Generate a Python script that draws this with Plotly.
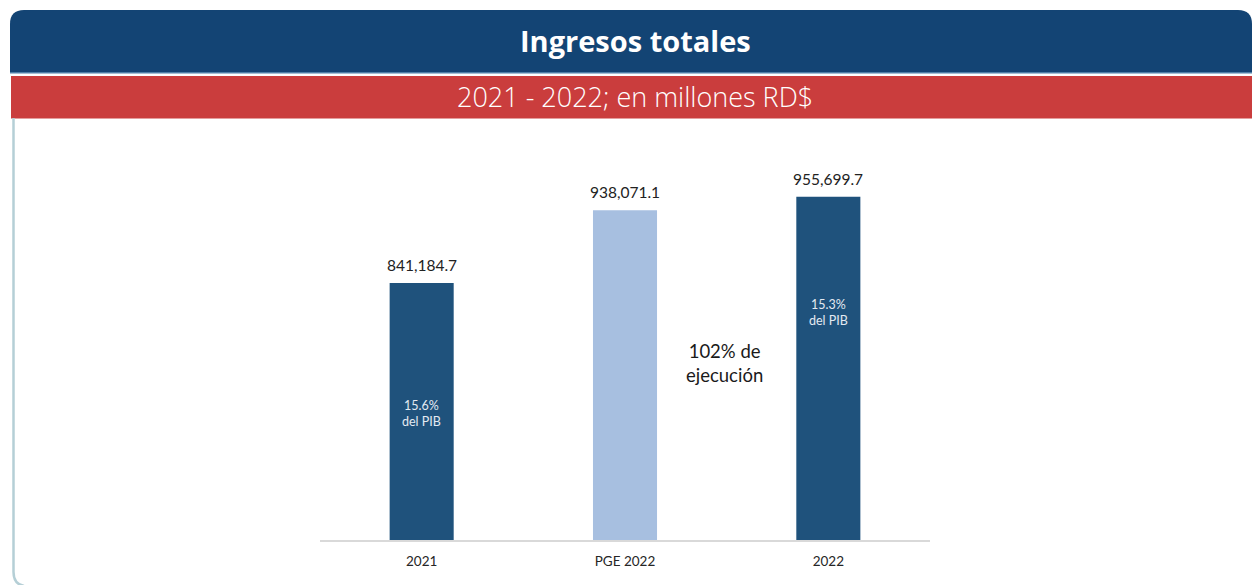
import plotly.graph_objects as go

categories = ["2021", "PGE 2022", "2022"]
values = [841184.7, 938071.1, 955699.7]
pib_labels = ["15.6%<br>del PIB", "", "15.3%<br>del PIB"]
title = "Ingresos totales"
subtitle = "2021 - 2022; en millones RD$"
execution_note = "102% de<br>ejecución"

W, H = 1252, 585
DARK = "#1F527C"
LIGHT = "#A7BFE0"

def px(x):
    return x / W

def py(y):
    return 1 - y / H

xpos = list(range(len(categories)))

fig = go.Figure()
fig.add_trace(go.Bar(
    x=xpos, y=values,
    marker=dict(color=[DARK, LIGHT, DARK], line=dict(width=0)),
    width=0.315,
    hoverinfo="skip",
))

annotations = []
for i, v in zip(xpos, values):
    annotations.append(dict(
        x=i, y=v, xref="x", yref="y", text=f"{v:,.1f}", showarrow=False,
        xanchor="center", yanchor="bottom", yshift=7,
        font=dict(family="Lato, Open Sans, sans-serif", size=15.5, color="#222222"),
    ))
pib_pos = {0: 413, 2: 312}
for i, t in zip(xpos, pib_labels):
    if t:
        annotations.append(dict(
            x=i, xref="x", y=py(pib_pos[i]), yref="paper", text=t, showarrow=False,
            xanchor="center", yanchor="middle",
            font=dict(family="Lato, Open Sans, sans-serif", size=12.5, color="#E3EAF2"),
        ))
annotations.append(dict(
    x=px(725), y=py(363), xref="paper", yref="paper", text=execution_note, showarrow=False,
    xanchor="center", yanchor="middle",
    font=dict(family="Lato, Open Sans, sans-serif", size=18.5, color="#1a1a1a"),
))
annotations.append(dict(
    x=px(635), y=py(41), xref="paper", yref="paper", text=title, showarrow=False,
    xanchor="center", yanchor="middle",
    font=dict(family="Open Sans, sans-serif", size=29, color="white", weight=700),
))
annotations.append(dict(
    x=px(635), y=py(97), xref="paper", yref="paper", text=subtitle, showarrow=False,
    xanchor="center", yanchor="middle",
    font=dict(family="Open Sans, sans-serif", size=27, color="white", weight=300),
))

shapes = [
    dict(type="path", xref="paper", yref="paper",
         path=(f"M {px(10)},{py(72)} L {px(10)},{py(24)} Q {px(10)},{py(10)} {px(24)},{py(10)} "
               f"L {px(1238)},{py(10)} Q {px(1252)},{py(10)} {px(1252)},{py(24)} L {px(1252)},{py(72)} Z"),
         fillcolor="#134474", line=dict(width=0), layer="below"),
    dict(type="rect", xref="paper", yref="paper", x0=px(10), x1=px(1252), y0=py(73.5), y1=py(72),
         fillcolor="#4F7FA8", line=dict(width=0), layer="below"),
    dict(type="rect", xref="paper", yref="paper", x0=px(11), x1=px(1252), y0=py(118.5), y1=py(76),
         fillcolor="#CA3D3D", line=dict(width=0), layer="below"),
    dict(type="path", xref="paper", yref="paper",
         path=f"M {px(13.5)},{py(118)} L {px(13.5)},{py(572)} Q {px(13.5)},{py(584)} {px(24)},{py(586)}",
         line=dict(color="#B5CFD6", width=2.5), layer="below"),
]

fig.update_layout(
    width=W, height=H,
    margin=dict(l=0, r=0, t=0, b=0),
    paper_bgcolor="white", plot_bgcolor="white",
    showlegend=False,
    xaxis=dict(domain=[px(320), px(930)], range=[-0.5, 2.5], tickmode="array",
               tickvals=xpos, ticktext=categories, showgrid=False, zeroline=False, showline=True,
               linecolor="#D9D9D9", linewidth=1.5, ticks="", ticklabelstandoff=8,
               tickfont=dict(family="Lato, Open Sans, sans-serif", size=13.5, color="#262626"),
               fixedrange=True),
    yaxis=dict(domain=[py(540), py(160)], range=[500000, 1004650], visible=False, fixedrange=True),
    annotations=annotations,
    shapes=shapes,
)

fig.write_html("out.html", config={"displayModeBar": False},
               post_script="document.body.style.margin='0';document.body.style.overflow='hidden';")
